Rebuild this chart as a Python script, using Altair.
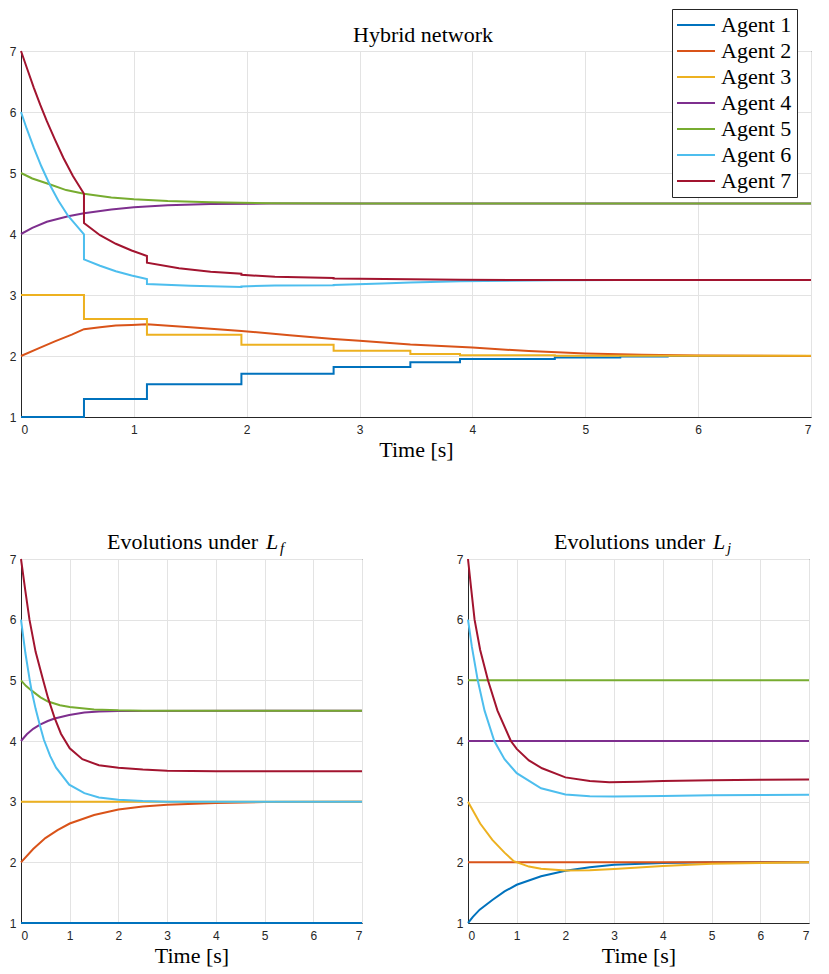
import altair as alt
import pandas as pd

AGENTS = ["Agent 1", "Agent 2", "Agent 3", "Agent 4", "Agent 5", "Agent 6", "Agent 7"]
COLORS = ["#0072BD", "#D95319", "#EDB120", "#7E2F8E", "#77AC30", "#4DBEEE", "#A2142F"]
X_TICKS = [0, 1, 2, 3, 4, 5, 6, 7]
Y_TICKS = [1, 2, 3, 4, 5, 6, 7]

# ---- Hybrid network ----
HYB_T1 = [0, 0.558, 0.558, 1.116, 1.116, 1.953, 1.953, 2.77, 2.77, 3.45, 3.45, 3.89, 3.89, 4.73, 4.73, 5.31, 5.31, 5.73, 5.73, 7.0]
HYB_V1 = [1.0, 1.0, 1.295, 1.295, 1.536, 1.536, 1.71, 1.71, 1.82, 1.82, 1.897, 1.897, 1.95, 1.95, 1.975, 1.975, 1.99, 1.99, 1.998, 1.998]
HYB_T2 = [0, 0.15, 0.3, 0.45, 0.558, 0.7, 0.84, 0.98, 1.116, 1.5, 1.953, 2.38, 2.77, 3.0, 3.45, 4.0, 4.5, 5.0, 5.5, 6.0, 7.0]
HYB_V2 = [2.0, 2.12, 2.24, 2.35, 2.44, 2.47, 2.50, 2.51, 2.52, 2.47, 2.41, 2.34, 2.28, 2.25, 2.19, 2.14, 2.08, 2.04, 2.02, 2.01, 2.0]
HYB_T3 = [0, 0.558, 0.558, 1.116, 1.116, 1.953, 1.953, 2.77, 2.77, 3.45, 3.45, 3.89, 3.89, 4.73, 4.73, 7.0]
HYB_V3 = [3.0, 3.0, 2.607, 2.607, 2.35, 2.35, 2.185, 2.185, 2.087, 2.087, 2.033, 2.033, 2.012, 2.012, 2.003, 2.003]
HYB_T4 = [0, 0.1, 0.229, 0.418, 0.558, 0.8, 1.0, 1.3, 1.68, 2.2, 3.0, 7.0]
HYB_V4 = [4.0, 4.10, 4.20, 4.29, 4.34, 4.40, 4.44, 4.47, 4.49, 4.498, 4.5, 4.5]
HYB_T5 = [0, 0.1, 0.253, 0.4, 0.558, 0.8, 1.0, 1.3, 1.68, 2.2, 3.0, 7.0]
HYB_V5 = [5.0, 4.91, 4.815, 4.72, 4.66, 4.60, 4.57, 4.54, 4.52, 4.505, 4.5, 4.5]
HYB_T6 = [0, 0.05, 0.113, 0.18, 0.253, 0.33, 0.418, 0.49, 0.558, 0.558, 0.7, 0.84, 0.98, 1.116, 1.116, 1.5, 1.953, 1.953, 2.25, 2.77, 2.77, 3.2, 3.45, 3.89, 4.73, 5.31, 7.0]
HYB_V6 = [6.0, 5.73, 5.415, 5.11, 4.815, 4.55, 4.295, 4.14, 3.995, 3.585, 3.48, 3.39, 3.32, 3.26, 3.18, 3.15, 3.13, 3.14, 3.155, 3.16, 3.165, 3.19, 3.205, 3.225, 3.24, 3.245, 3.245]
HYB_T7 = [0, 0.06, 0.113, 0.17, 0.229, 0.3, 0.375, 0.46, 0.558, 0.558, 0.7, 0.84, 0.98, 1.116, 1.116, 1.4, 1.68, 1.953, 1.953, 2.25, 2.77, 2.77, 3.45, 3.89, 4.73, 7.0]
HYB_V7 = [7.0, 6.68, 6.40, 6.12, 5.85, 5.55, 5.25, 4.95, 4.66, 4.18, 3.98, 3.84, 3.73, 3.64, 3.53, 3.44, 3.38, 3.35, 3.33, 3.30, 3.28, 3.27, 3.26, 3.25, 3.245, 3.245]

# ---- Evolutions under L_f ----
LF_T1 = [0, 7.0]
LF_V1 = [1.0, 1.0]
LF_T2 = [0, 0.25, 0.5, 0.75, 1.0, 1.5, 2.0, 2.5, 3.0, 4.0, 5.0, 7.0]
LF_V2 = [2.0, 2.22, 2.40, 2.53, 2.64, 2.78, 2.87, 2.92, 2.95, 2.98, 2.995, 3.0]
LF_T3 = [0, 7.0]
LF_V3 = [3.0, 3.0]
LF_T4 = [0, 0.12, 0.25, 0.39, 0.55, 0.69, 0.99, 1.3, 1.6, 2.0, 7.0]
LF_V4 = [4.0, 4.11, 4.20, 4.27, 4.33, 4.37, 4.43, 4.47, 4.485, 4.495, 4.5]
LF_T5 = [0, 0.1, 0.22, 0.4, 0.555, 0.8, 1.0, 1.5, 2.0, 2.5, 7.0]
LF_V5 = [5.0, 4.91, 4.83, 4.72, 4.65, 4.59, 4.56, 4.52, 4.505, 4.5, 4.5]
LF_T6 = [0, 0.09, 0.18, 0.22, 0.30, 0.39, 0.47, 0.6, 0.72, 0.99, 1.3, 1.6, 2.0, 2.5, 3.0, 7.0]
LF_V6 = [6.0, 5.45, 5.0, 4.82, 4.53, 4.25, 4.02, 3.75, 3.56, 3.28, 3.14, 3.07, 3.03, 3.01, 3.0, 3.0]
LF_T7 = [0, 0.09, 0.174, 0.3, 0.455, 0.555, 0.69, 0.82, 1.0, 1.26, 1.6, 2.0, 2.5, 3.0, 4.0, 7.0]
LF_V7 = [7.0, 6.47, 6.0, 5.47, 5.0, 4.71, 4.38, 4.12, 3.88, 3.70, 3.60, 3.56, 3.53, 3.51, 3.5, 3.5]

# ---- Evolutions under L_j ----
LJ_T1 = [0, 0.1, 0.24, 0.5, 0.75, 1.0, 1.5, 2.0, 2.5, 3.0, 4.0, 5.0, 7.0]
LJ_V1 = [1.0, 1.10, 1.22, 1.38, 1.52, 1.63, 1.77, 1.86, 1.92, 1.96, 1.99, 2.0, 2.0]
LJ_T2 = [0, 7.0]
LJ_V2 = [2.0, 2.0]
LJ_T3 = [0, 0.25, 0.5, 0.75, 0.94, 1.25, 1.5, 2.0, 2.5, 3.0, 4.0, 5.0, 6.0, 7.0]
LJ_V3 = [3.0, 2.64, 2.37, 2.16, 2.02, 1.93, 1.895, 1.865, 1.87, 1.89, 1.94, 1.975, 1.99, 2.0]
LJ_T4 = [0, 7.0]
LJ_V4 = [4.0, 4.0]
LJ_T5 = [0, 7.0]
LJ_V5 = [5.0, 5.0]
LJ_T6 = [0, 0.08, 0.20, 0.34, 0.54, 0.75, 1.0, 1.5, 2.0, 2.5, 3.0, 4.0, 5.0, 6.0, 7.0]
LJ_V6 = [6.0, 5.55, 5.0, 4.5, 4.0, 3.70, 3.47, 3.22, 3.12, 3.09, 3.085, 3.095, 3.105, 3.11, 3.115]
LJ_T7 = [0, 0.06, 0.135, 0.25, 0.41, 0.605, 0.88, 1.0, 1.25, 1.52, 2.0, 2.5, 2.9, 3.5, 4.0, 5.0, 6.0, 7.0]
LJ_V7 = [7.0, 6.55, 6.0, 5.5, 5.0, 4.5, 4.0, 3.87, 3.68, 3.55, 3.40, 3.34, 3.32, 3.33, 3.34, 3.355, 3.36, 3.365]

TITLE_TOP = "Hybrid network"
TITLE_SUB = "Evolutions under"

SERIF = "Liberation Serif"
SANS = "Liberation Sans"


def frame(pairs):
    rows = []
    for name, (ts, vs) in zip(AGENTS, pairs):
        for i, (t, v) in enumerate(zip(ts, vs)):
            rows.append({"agent": name, "t": t, "v": v, "i": i})
    return pd.DataFrame(rows)


hyb = frame([(HYB_T1, HYB_V1), (HYB_T2, HYB_V2), (HYB_T3, HYB_V3), (HYB_T4, HYB_V4),
             (HYB_T5, HYB_V5), (HYB_T6, HYB_V6), (HYB_T7, HYB_V7)])
lf = frame([(LF_T1, LF_V1), (LF_T2, LF_V2), (LF_T3, LF_V3), (LF_T4, LF_V4),
            (LF_T5, LF_V5), (LF_T6, LF_V6), (LF_T7, LF_V7)])
lj = frame([(LJ_T1, LJ_V1), (LJ_T2, LJ_V2), (LJ_T3, LJ_V3), (LJ_T4, LJ_V4),
            (LJ_T5, LJ_V5), (LJ_T6, LJ_V6), (LJ_T7, LJ_V7)])


def lines(df, legend):
    return alt.Chart(df).mark_line(strokeWidth=2).encode(
        x=alt.X("t:Q", scale=alt.Scale(domain=[0, 7], nice=False),
                axis=alt.Axis(values=X_TICKS, format="d", title="Time [s]",
                              labelPadding=7, titlePadding=4)),
        y=alt.Y("v:Q", scale=alt.Scale(domain=[1, 7], nice=False),
                axis=alt.Axis(values=Y_TICKS, format="d", title=None, labelPadding=5)),
        color=alt.Color("agent:N", scale=alt.Scale(domain=AGENTS, range=COLORS), legend=legend),
        order="i:Q",
    )


def label(text, x, y, size=22, italic=False, align="left"):
    mark = dict(font=SERIF, fontSize=size, align=align, baseline="alphabetic", color="black")
    if italic:
        mark["fontStyle"] = "italic"
    return alt.Chart(pd.DataFrame({"s": [text]})).mark_text(**mark).encode(
        text="s:N", x=alt.value(x), y=alt.value(y)
    )


legend = alt.Legend(
    title=None, orient="none", legendX=651, legendY=-42,
    direction="vertical", columns=1,
    fillColor="white", strokeColor="#262626", padding=5,
    symbolType="M-2,0H2", symbolSize=361, symbolStrokeWidth=2, symbolOffset=8,
    labelFont=SERIF, labelFontSize=22, labelColor="black", labelOffset=14,
    rowPadding=4,
)

top = alt.layer(
    lines(hyb, legend),
    label(TITLE_TOP, 402, -9, align="center"),
).properties(width=790, height=366)


def sub_panel(df, sub):
    return alt.layer(
        lines(df, None),
        label(TITLE_SUB, 237, -10, align="right"),
        label("L", 245, -10, italic=True),
        label(sub, 259, -6, size=15, italic=True),
    ).properties(width=341, height=364)


bl = sub_panel(lf, "f")
br = sub_panel(lj, "j")

chart = alt.vconcat(top, alt.hconcat(bl, br, spacing=88), spacing=69).properties(
    padding={"left": 0, "top": 0, "right": 0, "bottom": 0}
).configure_axis(
    labelFont=SANS, labelFontSize=12, labelColor="#262626",
    titleFont=SERIF, titleFontSize=22, titleColor="black", titleFontWeight="normal",
    gridColor="#e3e3e3", domainColor="#262626", tickSize=0,
).configure_view(stroke="#262626", strokeWidth=1)

chart.save("out.html", embed_options={"renderer": "svg", "actions": False})
